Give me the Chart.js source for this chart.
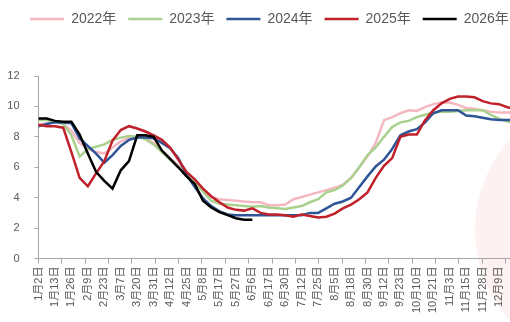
<!DOCTYPE html>
<html lang="zh-CN">
<head>
<meta charset="utf-8">
<title>2022-2026年走势</title>
<script src="https://cdn.jsdelivr.net/npm/chart.js@4.4.1/dist/chart.umd.min.js"></script>
<style>
  html, body { margin: 0; padding: 0; background: #fff; overflow: hidden; }
  /* the original picture is cut off on the right, so the canvas runs past the window */
  .chart-box { position: relative; width: 532px; height: 322px; }
</style>
</head>
<body>
<div class="chart-box"><canvas id="trendChart"></canvas></div>
<script>
// axis labels, one every 2 data points
const dateLabels = ['1月2日', '1月13日', '1月26日', '2月9日', '2月23日', '3月7日', '3月20日', '3月31日',
  '4月12日', '4月25日', '5月8日', '5月17日', '5月27日', '6月6日', '6月17日', '6月30日', '7月12日',
  '7月25日', '8月5日', '8月18日', '8月30日', '9月12日', '9月23日', '10月10日', '10月21日', '11月3日',
  '11月15日', '11月28日', '12月9日'];
const pointsPerLabel = 2;
const lastIndex = 60;

const yTicks = [0, 2, 4, 6, 8, 10, 12];

const y2022 = [8.8, 8.9, 9.0, 8.85, 8.4, 7.6, 7.2, 7.0, 6.9, 7.3,
  7.7, 7.95, 8.0, 7.9, 7.6, 7.1, 6.6, 6.1, 5.6, 5.05,
  4.45, 4.05, 3.9, 3.85, 3.8, 3.75, 3.7, 3.7, 3.5, 3.5,
  3.55, 3.9, 4.05, 4.2, 4.35, 4.5, 4.65, 4.85, 5.3, 6.0,
  6.7, 7.6, 9.1, 9.3, 9.55, 9.75, 9.7, 9.95, 10.15, 10.25,
  10.25, 10.1, 9.9, 9.85, 9.75, 9.65, 9.6, 9.6, 9.6];
const y2023 = [9.1, 9.1, 9.0, 8.85, 8.1, 6.7, 7.2, 7.35, 7.5, 7.8,
  7.95, 8.05, 8.0, 7.85, 7.5, 7.0, 6.5, 6.0, 5.5, 5.0,
  4.4, 3.8, 3.6, 3.55, 3.5, 3.45, 3.4, 3.45, 3.35, 3.3,
  3.25, 3.35, 3.45, 3.7, 3.9, 4.35, 4.5, 4.8, 5.3, 6.0,
  6.8, 7.3, 8.0, 8.65, 8.95, 9.05, 9.3, 9.45, 9.6, 9.65,
  9.65, 9.7, 9.75, 9.75, 9.75, 9.45, 9.2, 9.0, 8.95];
const y2024 = [8.7, 8.85, 8.95, 8.95, 8.9, 7.9, 7.4, 6.9, 6.3, 6.8,
  7.4, 7.8, 7.95, 7.95, 7.9, 7.6, 7.25, 6.6, 5.5, 4.7,
  3.95, 3.45, 3.1, 2.9, 2.85, 2.85, 2.85, 2.85, 2.85, 2.85,
  2.85, 2.85, 2.85, 3.0, 3.0, 3.3, 3.6, 3.75, 4.0, 4.7,
  5.4, 6.05, 6.5, 7.2, 8.1, 8.35, 8.5, 8.95, 9.55, 9.75,
  9.75, 9.75, 9.4, 9.35, 9.25, 9.15, 9.1, 9.1, 9.1];
const y2025 = [8.8, 8.7, 8.7, 8.6, 7.0, 5.3, 4.75, 5.6, 6.4, 7.75,
  8.45, 8.7, 8.55, 8.35, 8.1, 7.8, 7.3, 6.5, 5.7, 5.2,
  4.6, 4.1, 3.7, 3.35, 3.2, 3.15, 3.3, 3.0, 2.9, 2.9,
  2.85, 2.75, 2.9, 2.8, 2.7, 2.75, 2.95, 3.3, 3.55, 3.9,
  4.35, 5.3, 6.1, 6.6, 8.0, 8.15, 8.15, 9.1, 9.75, 10.2,
  10.5, 10.65, 10.65, 10.6, 10.35, 10.2, 10.15, 9.95, 9.85];
const y2026 = [9.2, 9.2, 9.05, 9.0, 9.0, 8.15, 6.9, 5.7, 5.1, 4.6,
  5.8, 6.4, 8.1, 8.1, 8.0, 7.1, 6.55, 6.0, 5.4, 4.9,
  3.8, 3.35, 3.05, 2.85, 2.65, 2.55, 2.55];

const seriesNames = ['2022年', '2023年', '2024年', '2025年', '2026年'];
const seriesColors = ['#F4B8C1', '#A9D18E', '#2F5597', '#C0202A', '#000000'];

document.addEventListener('DOMContentLoaded', function () {
  const categories = [];
  for (let i = 0; i <= lastIndex; i++) {
    const k = i / pointsPerLabel;
    categories.push(i % pointsPerLabel === 0 && dateLabels[k] ? dateLabels[k] : '');
  }

  const allSeries = [y2022, y2023, y2024, y2025, y2026];
  const datasets = allSeries.map((values, idx) => ({
    label: seriesNames[idx],
    data: values,
    borderColor: seriesColors[idx],
    backgroundColor: seriesColors[idx],
    borderWidth: 2.5,
    pointRadius: 0,
    tension: 0,
    xAxisID: 'x',
    yAxisID: 'y',
    order: allSeries.length - idx   // later years drawn on top
  }));

  // faint round watermark on the right edge
  const watermark = {
    id: 'watermark',
    beforeDraw(chart) {
      const c = chart.ctx;
      c.save();
      c.fillStyle = 'rgba(220, 60, 60, 0.07)';
      c.beginPath();
      c.arc(610, 230, 135, 0, Math.PI * 2);
      c.fill();
      c.restore();
    }
  };

  // extra room under the legend
  const legendGap = {
    id: 'legendGap',
    beforeInit(chart) {
      const fit = chart.legend.fit;
      chart.legend.fit = function () {
        fit.bind(chart.legend)();
        this.height += 40;
      };
    }
  };

  const noSidePadding = function (scale) {
    scale.paddingLeft = 0;
    scale.paddingRight = 0;
  };

  const gray = '#595959';
  const axisGray = '#a6a6a6';
  const fontFamily = "'Liberation Sans', 'Noto Sans CJK SC'";
  const ctx = document.getElementById('trendChart').getContext('2d');
  const trendChart = new Chart(ctx, {
    type: 'line',
    data: { labels: categories, datasets: datasets },
    plugins: [watermark, legendGap],
    options: {
      responsive: true,
      maintainAspectRatio: false,
      animation: false,
      layout: { autoPadding: false, padding: { left: 7, right: 0, top: 0, bottom: 6 } },
      scales: {
        x: {
          type: 'category',
          position: 'bottom',
          weight: 1,
          afterFit: noSidePadding,
          grid: { display: false, drawTicks: false },
          border: { display: false },
          ticks: {
            autoSkip: false,
            maxRotation: 90,
            minRotation: 90,
            padding: 3,
            color: gray,
            font: { family: fontFamily, size: 11 }
          }
        },
        xt: {
          type: 'linear',
          position: 'bottom',
          weight: 0,
          min: 0,
          max: 21.13,
          afterFit: noSidePadding,
          ticks: { display: false, stepSize: 1 },
          grid: { drawOnChartArea: false, tickLength: 5, color: axisGray },
          border: { color: axisGray }
        },
        y: {
          min: 0,
          max: 12,
          afterBuildTicks: function (scale) {
            scale.ticks = yTicks.map(v => ({ value: v }));
          },
          afterFit: function (scale) {
            scale.width = 31.5;
          },
          grid: { drawOnChartArea: false, tickLength: 4, color: axisGray },
          border: { color: axisGray },
          ticks: {
            padding: 15,
            color: gray,
            font: { family: fontFamily, size: 11 }
          }
        }
      },
      plugins: {
        legend: {
          position: 'top',
          labels: {
            usePointStyle: true,
            pointStyle: 'line',
            pointStyleWidth: 34,
            padding: 12,
            color: gray,
            font: { family: fontFamily, size: 14 },
            sort: (a, b) => a.datasetIndex - b.datasetIndex
          }
        },
        tooltip: { enabled: false }
      }
    }
  });
});
</script>
</body>
</html>
